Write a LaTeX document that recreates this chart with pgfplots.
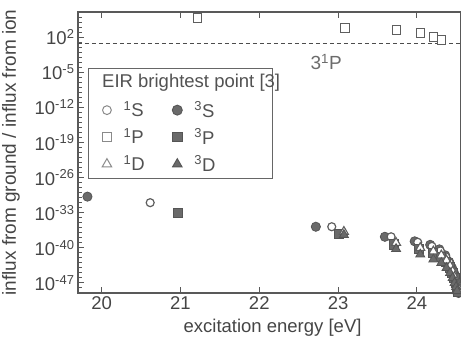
\documentclass[border=0pt]{standalone}
\usepackage{pgfplots}
\pgfplotsset{compat=1.18}
\usepackage{fontspec}
\setmainfont{Liberation Sans}
\definecolor{fillg}{HTML}{6A6A6A}
\definecolor{edgeg}{HTML}{555555}
\definecolor{openg}{HTML}{5E5E5E}
\definecolor{legopen}{HTML}{8A8A8A}
\definecolor{txtg}{HTML}{454545}
\begin{document}
\begin{tikzpicture}
\begin{axis}[
  scale only axis, width=383pt, height=281pt,
  xmin=19.7, xmax=24.56,
  ymode=log, ymin=1e-49, ymax=1e7,
  axis line style={black!65, line width=1.1pt},
  tick style={black!65, line width=1pt},
  major tick length=6pt, minor tick length=4pt,
  xtick={20,21,22,23,24}, xticklabels={20,21,22,23,24},
  xtick pos=both, ytick pos=left,
  ytick={1e-47,1e-40,1e-33,1e-26,1e-19,1e-12,1e-5,1e2},
  yticklabels={10\textsuperscript{-47},10\textsuperscript{-40},10\textsuperscript{-33},10\textsuperscript{-26},10\textsuperscript{-19},10\textsuperscript{-12},10\textsuperscript{-5},10\textsuperscript{2}},
  minor ytick={1e-49,1e-48,1e-46,1e-45,1e-44,1e-43,1e-42,1e-41,1e-39,1e-38,1e-37,1e-36,1e-35,1e-34,1e-32,1e-31,1e-30,1e-29,1e-28,1e-27,1e-25,1e-24,1e-23,1e-22,1e-21,1e-20,1e-18,1e-17,1e-16,1e-15,1e-14,1e-13,1e-11,1e-10,1e-9,1e-8,1e-7,1e-6,1e-4,1e-3,1e-2,1e-1,1e0,1e1,1e3,1e4,1e5,1e6,1e7},
  ticklabel style={font=\fontsize{18.5}{22}\selectfont, text=txtg},
  xlabel={excitation energy [eV]},
  ylabel={influx from ground / influx from ion},
  every axis x label/.style={at={(axis description cs:0.508,0)}, yshift=-35pt, anchor=center, font=\fontsize{18.5}{22}\selectfont, text=txtg},
  every axis y label/.style={at={(axis description cs:-0.175,0.5)}, rotate=90, anchor=center, font=\fontsize{19}{22}\selectfont, text=txtg},
  legend columns=2,
  legend cell align=left,
  legend style={at={(0.026,0.80)}, anchor=north west, draw=black!60, line width=0.9pt, fill=white,
    font=\fontsize{18.5}{22}\selectfont, text=black!68,
    inner xsep=10pt, inner ysep=1pt, row sep=0pt,
    nodes={minimum height=27pt, inner ysep=0pt},
    /tikz/every odd column/.append style={column sep=10pt},
    /tikz/every even column/.append style={column sep=22pt}},
]
% 1P open squares
\addplot[only marks, mark=square*, mark size=4.3pt, mark options={draw=openg, fill=white, line width=1.1pt}, forget plot] coordinates {
(21.218,6.3e5) (23.087,6.3e3) (24.046,6.3e2) (23.742,2.5e3) (24.211,1e2) (24.311,2.5e1)};
% 3S filled circles
\addplot[only marks, mark=*, mark size=4.6pt, mark options={draw=edgeg, fill=fillg, line width=0.8pt}, forget plot] coordinates {
(19.82,1.6e-30) (22.718,1.6e-36) (23.594,1.6e-38) (23.972,2e-39) (24.169,4e-40) (24.285,5e-41) (24.360,3.2e-42) (24.410,1.6e-43) (24.446,1e-44) (24.472,1e-45) (24.492,1e-46) (24.507,1e-47) (24.519,1e-48) (24.529,1e-49)};
% 1S open circles
\addplot[only marks, mark=*, mark size=4pt, mark options={draw=openg, fill=white, line width=1.2pt}, forget plot] coordinates {
(20.616,1e-31) (22.920,1.6e-36) (23.673,1.6e-38) (24.011,1.3e-39) (24.191,2e-40) (24.298,2.5e-41) (24.367,1.6e-42) (24.415,1e-43) (24.449,6.3e-45) (24.474,5e-46) (24.494,5e-47) (24.509,6.3e-48) (24.520,6.3e-49) (24.530,7.9e-50)};
% 3P filled squares
\addplot[only marks, mark=square*, mark size=4.6pt, mark options={draw=edgeg, fill=fillg, line width=0.8pt}, forget plot] coordinates {
(20.964,1e-33) (23.007,5e-38) (23.708,5e-40) (24.029,6.3e-41) (24.201,1e-41) (24.305,1.6e-42) (24.372,1.6e-43) (24.419,1.3e-44) (24.452,1e-45) (24.477,1e-46) (24.496,1e-47) (24.510,1.6e-48) (24.521,2e-49) (24.531,3.2e-50)};
% 1D open triangles
\addplot[only marks, mark=triangle*, mark size=5.2pt, mark options={draw=openg, fill=white, line width=1.1pt}, forget plot] coordinates {
(23.074,1.6e-37) (23.736,1e-39) (24.043,1e-40) (24.209,2e-41) (24.310,3.2e-42) (24.376,3.2e-43) (24.421,2.5e-44) (24.454,2e-45) (24.478,1.6e-46) (24.497,1.6e-47) (24.511,2.5e-48) (24.522,3.2e-49) (24.532,5e-50)};
% 3D filled triangles
\addplot[only marks, mark=triangle*, mark size=5.2pt, mark options={draw=edgeg, fill=fillg, line width=0.8pt}, forget plot] coordinates {
(23.074,4e-38) (23.736,6.3e-41) (24.043,5e-42) (24.209,5e-43) (24.310,1e-43) (24.376,1e-44) (24.421,1e-45) (24.454,1e-46) (24.478,1e-47) (24.497,1.6e-48) (24.511,2.5e-49) (24.522,5e-50) (24.532,1e-50)};
% ionisation threshold dashed line
\addplot[black!70, line width=1pt, dash pattern=on 4pt off 3pt, forget plot] coordinates {(19.7,6.3) (24.56,6.3)};
\node[text=black!58, font=\fontsize{19}{22}\selectfont] at (axis cs:22.85,1e-3) {3\textsuperscript{1}P};
% legend
\addlegendimage{empty legend}
\addlegendentry{\hspace{-40pt}\raisebox{4pt}{\rlap{EIR brightest point [3]}}}
\addlegendimage{empty legend}
\addlegendentry{}
\addlegendimage{only marks, mark=*, mark size=4.4pt, mark options={draw=legopen, fill=white, line width=1pt}}
\addlegendentry{\textsuperscript{1}S}
\addlegendimage{only marks, mark=*, mark size=5pt, mark options={draw=edgeg, fill=fillg}}
\addlegendentry{\makebox[66pt][l]{\textsuperscript{3}S}}
\addlegendimage{only marks, mark=square*, mark size=4.5pt, mark options={draw=legopen, fill=white, line width=1pt}}
\addlegendentry{\textsuperscript{1}P}
\addlegendimage{only marks, mark=square*, mark size=4.8pt, mark options={draw=edgeg, fill=fillg}}
\addlegendentry{\makebox[66pt][l]{\textsuperscript{3}P}}
\addlegendimage{only marks, mark=triangle*, mark size=5.5pt, mark options={draw=legopen, fill=white, line width=1pt}}
\addlegendentry{\textsuperscript{1}D}
\addlegendimage{only marks, mark=triangle*, mark size=5.5pt, mark options={draw=edgeg, fill=fillg}}
\addlegendentry{\makebox[66pt][l]{\textsuperscript{3}D}}
\end{axis}
\pgfresetboundingbox
\path[use as bounding box] (current axis.south west) ++(-78pt,-46pt) rectangle ++(461pt,339pt);
\end{tikzpicture}
\end{document}
